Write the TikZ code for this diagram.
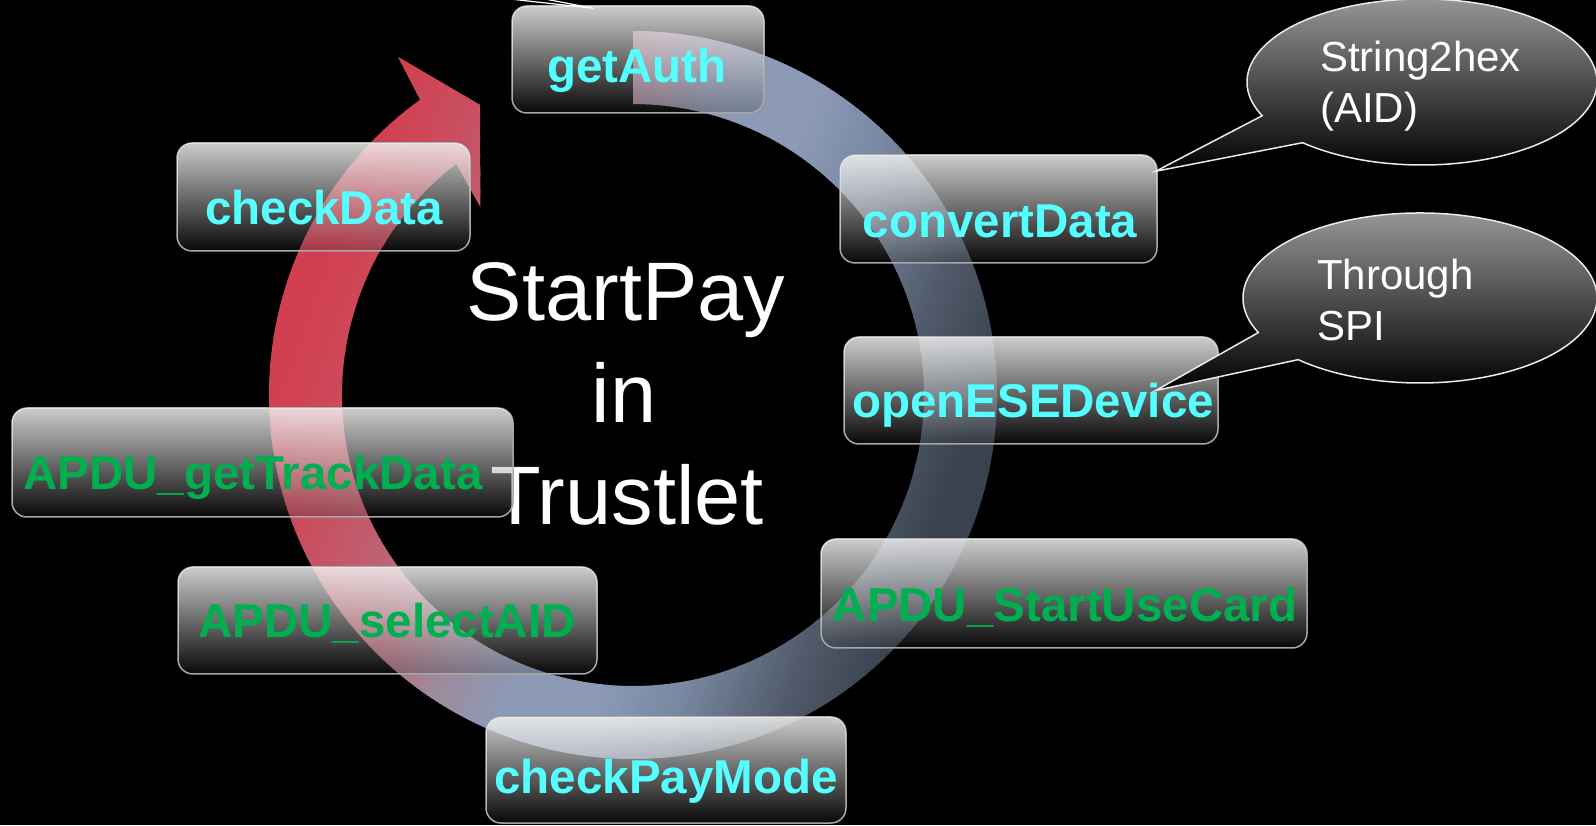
\documentclass[tikz,border=0pt]{standalone}
\usepackage{fontspec}
\newfontfamily\arialf{Liberation Sans}
\usetikzlibrary{calc,fadings}

\definecolor{lblcyan}{RGB}{85,255,255}
\definecolor{lblgreen}{RGB}{0,176,80}
\definecolor{boxedge}{RGB}{165,165,165}
\definecolor{bubbleedge}{RGB}{235,235,235}
\definecolor{bubblemid}{RGB}{60,60,60}
% ring colour stops, from the red end to the slate end
\definecolor{rgA}{RGB}{210,63,80}
\definecolor{rgB}{RGB}{200,80,96}
\definecolor{rgC}{RGB}{184,106,124}
\definecolor{rgD}{RGB}{160,136,154}
\definecolor{rgE}{RGB}{140,154,182}
\definecolor{rgF}{RGB}{120,136,160}
\definecolor{rgG}{RGB}{80,90,106}
\definecolor{rgH}{RGB}{58,66,80}

\tikzfading[name=glassfade, top color=transparent!20, middle color=transparent!67, bottom color=transparent!97]

\tikzset{
  glassbox/.style={rounded corners=15pt, draw=boxedge, line width=1.5pt,
    fill=black, fill opacity=0.22, inner sep=0pt,
    postaction={fill=white, fill opacity=1, path fading=glassfade, draw=none}},
  cyanlbl/.style={text=lblcyan, font=\arialf\bfseries\fontsize{47.5}{56}\selectfont,
    inner sep=0pt, anchor=base},
  greenlbl/.style={cyanlbl, text=lblgreen},
  bubble/.style={draw=bubbleedge, line width=1.5pt, top color=gray!75,
    middle color=bubblemid, bottom color=black},
  bubbletext/.style={text=white, font=\arialf\fontsize{42}{51}\selectfont,
    inner sep=0pt, anchor=base west},
  titletext/.style={text=white, font=\arialf\fontsize{83}{102}\selectfont,
    inner sep=0pt, anchor=base},
  pointerline/.style={draw=white, line width=1.2pt},
}

\begin{document}
\begin{tikzpicture}[x=1pt,y=1pt]
  \clip (0,0) rectangle (1596,825);
  \fill[black] (0,0) rectangle (1596,825);

  % circular arrow with a linear colour ramp
  \coordinate (rc) at (633,430);
  \begin{scope}
    \clip ($(rc)+(90:364pt)$) arc[start angle=90, end angle=-234.2, radius=364pt]
      -- ($(rc)+(124.8:412pt)$) -- ($(rc)+(117.8:328pt)$) -- ($(rc)+(129.1:242pt)$)
      -- ($(rc)+(127.4:291pt)$) arc[start angle=-232.6, end angle=90, radius=291pt] -- cycle;
    \begin{scope}[shift={(rc)}, rotate=160]
      \foreach \sa/\sb/\ca/\cb in {-430/-330/rgH/rgH, -330/-250/rgH/rgG,
          -250/-150/rgG/rgF, -150/-70/rgF/rgE, -70/15/rgE/rgE, 15/90/rgE/rgD,
          90/150/rgD/rgC, 150/250/rgC/rgB, 250/330/rgB/rgA, 330/440/rgA/rgA}{
        \foreach \k in {0,...,15}{
          \pgfmathsetmacro{\xa}{\sa+((\sb)-(\sa))*\k/16}
          \pgfmathsetmacro{\xb}{\sa+((\sb)-(\sa))*(\k+1)/16+1}
          \pgfmathtruncatemacro{\p}{100*(\k+0.5)/16}
          \fill[fill={\cb!\p!\ca}] (\xa,-470) rectangle (\xb,470);
        }
      }
    \end{scope}
  \end{scope}

  % centre title
  \node[titletext] (titleA) at (626,504) {StartPay};
  \node[titletext] (titleB) at (624,402) {in};
  \node[titletext] (titleC) at (627,300) {Trustlet};

  % step boxes
  \node[glassbox, minimum width=252pt, minimum height=107pt] (getAuth) at (638,765.5) {};
  \node[glassbox, minimum width=293pt, minimum height=108pt] (checkData) at (323.5,628) {};
  \node[glassbox, minimum width=501pt, minimum height=109pt] (getTrack) at (262.5,362.5) {};
  \node[glassbox, minimum width=419pt, minimum height=107pt] (selectAID) at (387.5,204.5) {};
  \node[glassbox, minimum width=360pt, minimum height=106pt] (payMode) at (666,55) {};
  \node[glassbox, minimum width=486pt, minimum height=109pt] (startCard) at (1064,231.5) {};
  \node[glassbox, minimum width=317pt, minimum height=108pt] (convertData) at (998.5,616) {};
  \node[glassbox, minimum width=374pt, minimum height=107pt] (openESE) at (1031,434.5) {};

  % step labels
  \node[cyanlbl] (getAuthText) at (637,742) {getAuth};
  \node[cyanlbl] (checkDataText) at (324,600) {checkData};
  \node[greenlbl] (getTrackText) at (253,335) {APDU\_getTrackData};
  \node[greenlbl] (selectAIDText) at (387,187) {APDU\_selectAID};
  \node[cyanlbl] (payModeText) at (666,32) {checkPayMode};
  \node[greenlbl] (startCardText) at (1065,203) {APDU\_StartUseCard};
  \node[cyanlbl] (convertDataText) at (1000,587) {convertData};
  \node[cyanlbl] (openESEText) at (1033,407) {openESEDevice};

  % speech bubbles
  \coordinate (bubA) at (1422,743);
  \coordinate (tipA) at ($(convertData.north east)+(-2,-17)$);
  \path[bubble] ($(bubA)+(227:175pt and 83pt)$) -- (tipA)
    -- ($(bubA)+(204:175pt and 83pt)$)
    arc[start angle=204, end angle=-133, x radius=175pt, y radius=83pt] -- cycle;
  \node[bubbletext] (bubAtextA) at (1320,753) {String2hex};
  \node[bubbletext] (bubAtextB) at (1320,702) {(AID)};

  \coordinate (bubB) at (1420,527);
  \coordinate (tipB) at ($(openESE.east)+(-63,0)$);
  \path[bubble] ($(bubB)+(226.5:177pt and 85pt)$) -- (tipB)
    -- ($(bubB)+(204:177pt and 85pt)$)
    arc[start angle=204, end angle=-133.5, x radius=177pt, y radius=85pt] -- cycle;
  \node[bubbletext] (bubBtextA) at (1317,535) {Through};
  \node[bubbletext] (bubBtextB) at (1317,484) {SPI};

  % pointer of a bubble above the frame
  \coordinate (upTip) at ($(getAuth.north)+(-45,-3)$);
  \coordinate (upEndA) at (510,826);
  \coordinate (upEndB) at (545,826);
  \draw[pointerline] (upEndA) -- (upTip) -- (upEndB);
\end{tikzpicture}
\end{document}
